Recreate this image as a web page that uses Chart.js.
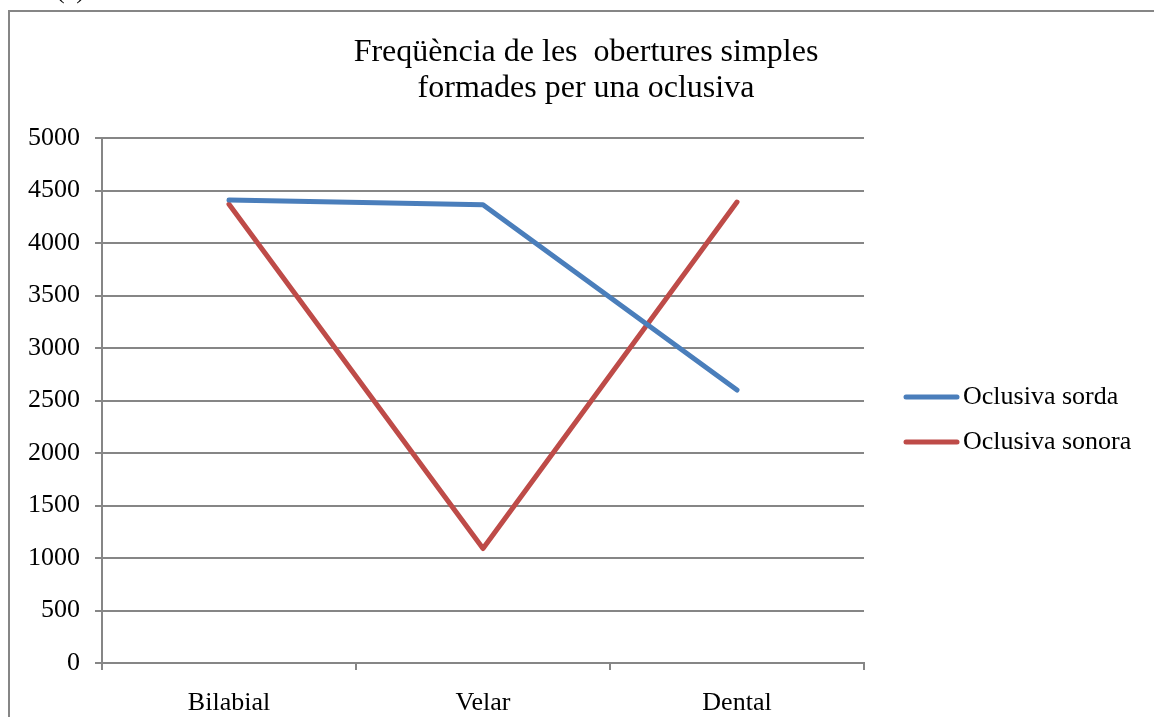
<!DOCTYPE html>
<html>
<head>
<meta charset="utf-8">
<script src="https://cdn.jsdelivr.net/npm/chart.js@4/dist/chart.umd.min.js"></script>
<style>
  html, body { margin: 0; padding: 0; background: #fff; }
  #wrap { position: relative; width: 1154px; height: 717px; }
</style>
</head>
<body>
<div id="wrap"><canvas id="lineChart"></canvas></div>
<script>
// data
const categories = ["Bilabial", "Velar", "Dental"];
const sordaValues = [4410, 4365, 2600];
const sonoraValues = [4370, 1090, 4390];
const seriesNames = ["Oclusiva sorda", "Oclusiva sonora"];
const titleLines = ["Freqüència de les  obertures simples", "formades per una oclusiva"];

const serif = "'Liberation Serif', 'Times New Roman', serif";
const gray = "#868686";
const colors = ["#4a7ebb", "#be4b48"];

// frame, title and legend drawn by hand like the office chart
const decor = {
  id: "decor",
  afterDraw(chart) {
    const ctx = chart.ctx;
    ctx.save();
    ctx.strokeStyle = gray;
    ctx.lineWidth = 2;
    ctx.strokeRect(9, 11, 1300, 720);

    ctx.fillStyle = "#000";
    ctx.font = "26px " + serif;
    ctx.textAlign = "left";
    ctx.textBaseline = "middle";
    ctx.fillText("(c)", 56, -9);

    ctx.font = "32px " + serif;
    ctx.textAlign = "center";
    ctx.fillText(titleLines[0], 586, 53);
    ctx.fillText(titleLines[1], 586, 89);

    ctx.font = "26px " + serif;
    ctx.textAlign = "left";
    chart.data.datasets.forEach((ds, i) => {
      const y = 397 + i * 45;
      ctx.strokeStyle = ds.borderColor;
      ctx.lineWidth = 5;
      ctx.lineCap = "round";
      ctx.beginPath();
      ctx.moveTo(906, y);
      ctx.lineTo(957, y);
      ctx.stroke();
      ctx.fillText(ds.label, 963, y);
    });
    ctx.restore();
  },
};

const ctx = document.getElementById("lineChart").getContext("2d");
new Chart(ctx, {
  type: "line",
  data: {
    labels: categories,
    datasets: [
      {
        label: seriesNames[0],
        data: sordaValues,
        borderColor: colors[0],
        backgroundColor: colors[0],
        borderWidth: 5,
        borderCapStyle: "round",
        borderJoinStyle: "round",
        pointRadius: 0,
        tension: 0,
      },
      {
        label: seriesNames[1],
        data: sonoraValues,
        borderColor: colors[1],
        backgroundColor: colors[1],
        borderWidth: 5,
        borderCapStyle: "round",
        borderJoinStyle: "round",
        pointRadius: 0,
        tension: 0,
      },
    ],
  },
  options: {
    responsive: true,
    maintainAspectRatio: false,
    animation: false,
    layout: { padding: { left: 0, top: 138, right: 290, bottom: 0 } },
    plugins: {
      legend: { display: false },
      title: { display: false },
      tooltip: { enabled: false },
    },
    scales: {
      x: {
        offset: true,
        grid: { offset: true, drawOnChartArea: false, tickLength: 7, color: gray, lineWidth: 2 },
        border: { color: gray, width: 2 },
        ticks: { color: "#000", font: { family: serif, size: 26 }, padding: 18, maxRotation: 0 },
        afterFit(scale) { scale.height = 54; },
      },
      y: {
        min: 0,
        max: 5000,
        grid: { color: gray, lineWidth: 2, tickLength: 7 },
        border: { color: gray, width: 2 },
        ticks: {
          stepSize: 500,
          color: "#000",
          font: { family: serif, size: 26 },
          padding: 15,
          callback: (v) => String(v),
        },
        afterFit(scale) { scale.width = 102; },
      },
    },
  },
  plugins: [decor],
});
</script>
</body>
</html>
